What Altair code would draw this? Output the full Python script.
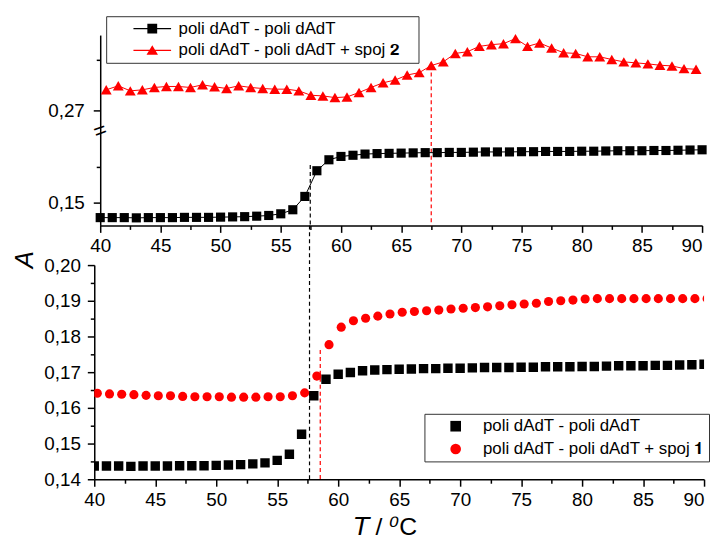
import altair as alt
import pandas as pd

# ---------------- data ----------------
T_BLACK = list(range(40, 91))
A_BLACK = [0.1437, 0.1437, 0.1437, 0.1436, 0.1437, 0.1437, 0.1437, 0.1438, 0.1438, 0.1438,
           0.1439, 0.1440, 0.1441, 0.1443, 0.1446, 0.1453, 0.1470, 0.1526, 0.1634, 0.1680,
           0.1694, 0.1699, 0.1704, 0.1706, 0.1707, 0.1708, 0.1709, 0.1710, 0.1710, 0.1711,
           0.1711, 0.1712, 0.1713, 0.1713, 0.1713, 0.1714, 0.1714, 0.1715, 0.1715, 0.1715,
           0.1716, 0.1716, 0.1717, 0.1718, 0.1718, 0.1718, 0.1719, 0.1719, 0.1720, 0.1721,
           0.1722]

T_RED1 = [t + 0.25 for t in range(40, 91)]
A_RED1 = [0.1641, 0.1639, 0.1638, 0.1637, 0.1635, 0.1634, 0.1634, 0.1632, 0.1631, 0.1631,
          0.1631, 0.1630, 0.1630, 0.1630, 0.1631, 0.1631, 0.1634, 0.1642, 0.1689, 0.1777,
          0.1826, 0.1844, 0.1851, 0.1857, 0.1863, 0.1868, 0.1870, 0.1872, 0.1874, 0.1877,
          0.1879, 0.1881, 0.1883, 0.1886, 0.1889, 0.1891, 0.1893, 0.1898, 0.1900, 0.1902,
          0.1905, 0.1906, 0.1906, 0.1906, 0.1906, 0.1906, 0.1906, 0.1906, 0.1906, 0.1906,
          0.1906]

T_RED2 = [t + 0.5 for t in range(40, 90)]
A_RED2 = [0.2761, 0.2773, 0.2758, 0.2761, 0.2768, 0.2771, 0.2771, 0.2768, 0.2776, 0.2770,
          0.2765, 0.2773, 0.2768, 0.2765, 0.2763, 0.2763, 0.2758, 0.2745, 0.2743, 0.2738,
          0.2740, 0.2753, 0.2768, 0.2782, 0.2790, 0.2805, 0.2812, 0.2833, 0.2844, 0.2869,
          0.2874, 0.2890, 0.2895, 0.2898, 0.2913, 0.2890, 0.2900, 0.2885, 0.2871, 0.2869,
          0.2859, 0.2859, 0.2851, 0.2844, 0.2841, 0.2838, 0.2834, 0.2832, 0.2824, 0.2822]

S_BLACK = "poli dAdT - poli dAdT"
S_RED2 = "poli dAdT - poli dAdT + spoj \U0001D7D0"
S_RED1 = "poli dAdT - poli dAdT + spoj \U0001D7CF"
X_TITLE = "\U0001D61B / \u2070C"

# melting-point markers (T, upper A)
TOP_RULES_T = [57.45, 67.5]
TOP_RULES_A = [0.1658, 0.2833]
BOT_BLACK_T = [57.65]
BOT_RED_T = [58.53]
BOT_RED_A = [0.1762]

X_TICKS = [40 + 2.5 * i for i in range(21)]
TOP_Y_TICKS = [0.15, 0.165, 0.27, 0.285]
BOT_Y_TICKS = [round(0.14 + 0.005 * i, 3) for i in range(13)]

# ---------------- layout constants ----------------
TOP_W, TOP_H, X_OFF = 613, 192, 6
BOT_W, BOT_H = 615, 216
FONT = "Liberation Sans"

# legend symbols: thin line + marker (size 121 -> unit = 5.5 px)
SQ_PATH = "M-3.45,-0.1H3.45V0.1H-3.45ZM-0.9,-0.9H0.9V0.9H-0.9Z"
TRI_PATH = "M-3.45,-0.1H3.45V0.1H-3.45ZM0,-0.95L1.05,0.8H-1.05Z"

comma_fmt = "replace(format(datum.value, '.2f'), '.', ',')"

def x_axis(title=None, **kw):
    return alt.Axis(values=X_TICKS, title=title,
                    labelExpr="datum.value % 5 == 0 ? format(datum.value, 'd') : ''",
                    tickSize={"condition": {"test": "datum.value % 5 == 0", "value": 7}, "value": 4},
                    labelAlign={"condition": {"test": "datum.value == 90", "value": "right"},
                                "value": "center"},
                    labelFlush=False, labelOverlap=False, labelPadding=4, **kw)

x_top = alt.Scale(domain=[40, 90], range=[X_OFF, TOP_W], nice=False, zero=False)
y_top = alt.Scale(domain=[0.140417, 0.179167, 0.264706, 0.292353],
                  range=[TOP_H, 99, 94, 0], nice=False, zero=False)
major_top = "datum.value == 0.15 || datum.value == 0.27"
y_top_axis = alt.Axis(values=TOP_Y_TICKS, title=None, offset=-X_OFF,
                      labelExpr=f"({major_top}) ? {comma_fmt} : ''",
                      tickSize={"condition": {"test": major_top, "value": 7}, "value": 4},
                      labelPadding=9, labelOverlap=False)
X_T = alt.X("T:Q", scale=x_top, axis=x_axis())
Y_T = alt.Y("A:Q", scale=y_top, axis=y_top_axis)

df_black = pd.DataFrame({"T": T_BLACK, "A": A_BLACK})
df_red1 = pd.DataFrame({"T": T_RED1, "A": A_RED1})
df_red2 = pd.DataFrame({"T": T_RED2, "A": A_RED2})

top_black_line = alt.Chart(df_black).mark_line(color="black", strokeWidth=1).encode(x=X_T, y=Y_T)
top_red_line = alt.Chart(df_red2).mark_line(color="red", strokeWidth=1).encode(x=X_T, y=Y_T)
top_black_pts = alt.Chart(df_black).mark_point(shape="square", filled=True, size=85,
                                               color="black", opacity=1).encode(x=X_T, y=Y_T)
top_red_pts = alt.Chart(df_red2).mark_point(shape="triangle-up", filled=True, size=121,
                                            color="red", opacity=1).encode(x=X_T, y=Y_T)
df_top_rules = pd.DataFrame({"T": TOP_RULES_T, "A": TOP_RULES_A,
                             "A0": [y_top.domain[0]] * 2, "c": ["black", "red"]})
top_rules = alt.Chart(df_top_rules).mark_rule(strokeDash=[4, 3], strokeWidth=1.2).encode(
    x=X_T, y=Y_T, y2="A0:Q", color=alt.Color("c:N", scale=None))
top_break = alt.Chart(pd.DataFrame({"A": [0.222]})).mark_text(
    text="=", angle=340, fontSize=22, font=FONT, align="center", baseline="middle",
    color="black").encode(y=Y_T, x=alt.value(X_OFF))

# the white "." title on the right only widens the legend box (as in the reference)
top_leg = dict(title=".", titleOrient="right", titleColor="white", titleFontSize=17,
               titlePadding=10, orient="none", legendX=12, legendY=-19, strokeColor="#333",
               fillColor="white", padding=4, symbolOffset=34, labelOffset=18, rowPadding=4,
               labelFont=FONT, labelFontSize=17, labelColor="black", labelLimit=500,
               symbolSize=121)
dom2 = [S_BLACK, S_RED2]
top_legend = alt.Chart(pd.DataFrame({"s": dom2})).transform_filter("false").mark_point(
    size=121, opacity=1, filled=True).encode(
    color=alt.Color("s:N", scale=alt.Scale(domain=dom2, range=["black", "red"]), legend=alt.Legend(**top_leg)),
    shape=alt.Shape("s:N", scale=alt.Scale(domain=dom2, range=[SQ_PATH, TRI_PATH]), legend=alt.Legend(**top_leg)),
)

top = alt.layer(top_rules, top_black_line, top_red_line, top_black_pts, top_red_pts,
                top_break, top_legend).properties(width=TOP_W, height=TOP_H)

# ---------------- bottom panel ----------------
x_bot = alt.Scale(domain=[40, 90], nice=False, zero=False)
y_bot = alt.Scale(domain=[0.14, 0.20], nice=False, zero=False)
major_bot = "round(datum.value * 1000) % 10 == 0"
y_bot_axis = alt.Axis(values=BOT_Y_TICKS, labelExpr=f"({major_bot}) ? {comma_fmt} : ''",
                      tickSize={"condition": {"test": major_bot, "value": 7}, "value": 4},
                      labelPadding=7, labelOverlap=False,
                      title="A", titleFont=FONT, titleFontSize=26, titleFontStyle="italic",
                      titleFontWeight="normal", titleColor="black", titleAngle=270,
                      titleX=-83, titleY=-6, titleAlign="center", titleBaseline="top")
X_B = alt.X("T:Q", scale=x_bot, axis=x_axis(title=X_TITLE, titleFont=FONT, titleFontSize=25,
                                            titleFontWeight="normal", titleColor="black",
                                            titleX=293, titleY=56, titleAlign="center",
                                            titleBaseline="alphabetic"))
Y_B = alt.Y("A:Q", scale=y_bot, axis=y_bot_axis)

bot_black = alt.Chart(df_black).mark_point(shape="square", filled=True, size=90, color="black",
                                           opacity=1, clip=True).encode(x=X_B, y=Y_B)
bot_red = alt.Chart(df_red1).mark_point(shape="circle", filled=True, size=85, color="red",
                                        opacity=1, clip=True).encode(x=X_B, y=Y_B)
bot_black_rule = alt.Chart(pd.DataFrame({"T": BOT_BLACK_T, "A": [0.14]})).mark_rule(
    strokeDash=[4, 3], strokeWidth=1.2, color="black").encode(x=X_B, y=Y_B, y2=alt.value(-40))
bot_red_rule = alt.Chart(pd.DataFrame({"T": BOT_RED_T, "A": BOT_RED_A, "A0": [0.14]})).mark_rule(
    strokeDash=[4, 3], strokeWidth=1.2, color="red").encode(x=X_B, y=Y_B, y2="A0:Q")

bot_leg = dict(title=None, orient="none", legendX=333, legendY=150, strokeColor="#333",
               fillColor="white", padding=4, symbolOffset=19, labelOffset=19, rowPadding=5,
               labelFont=FONT, labelFontSize=17, labelColor="black", labelLimit=500,
               symbolSize=115)
dom1 = [S_BLACK, S_RED1]
bot_legend = alt.Chart(pd.DataFrame({"s": dom1})).transform_filter("false").mark_point(
    size=115, opacity=1, filled=True).encode(
    color=alt.Color("s:N", scale=alt.Scale(domain=dom1, range=["black", "red"]), legend=alt.Legend(**bot_leg)),
    shape=alt.Shape("s:N", scale=alt.Scale(domain=dom1, range=["square", "circle"]), legend=alt.Legend(**bot_leg)),
)

bottom = alt.layer(bot_black_rule, bot_red_rule, bot_black, bot_red, bot_legend).properties(
    width=BOT_W, height=BOT_H)

chart = alt.vconcat(top, bottom, spacing=40, bounds="flush").resolve_scale(
    x="independent", y="independent", color="independent", shape="independent"
).properties(padding={"left": 4, "top": 5, "right": 0, "bottom": 0}).configure_view(
    stroke=None).configure_axis(
    domainColor="black", tickColor="black", labelColor="black", labelFont=FONT,
    labelFontSize=19, grid=False, domainWidth=1.5, tickWidth=1.5)

chart.save("out.html", embed_options={"renderer": "svg", "actions": False})
